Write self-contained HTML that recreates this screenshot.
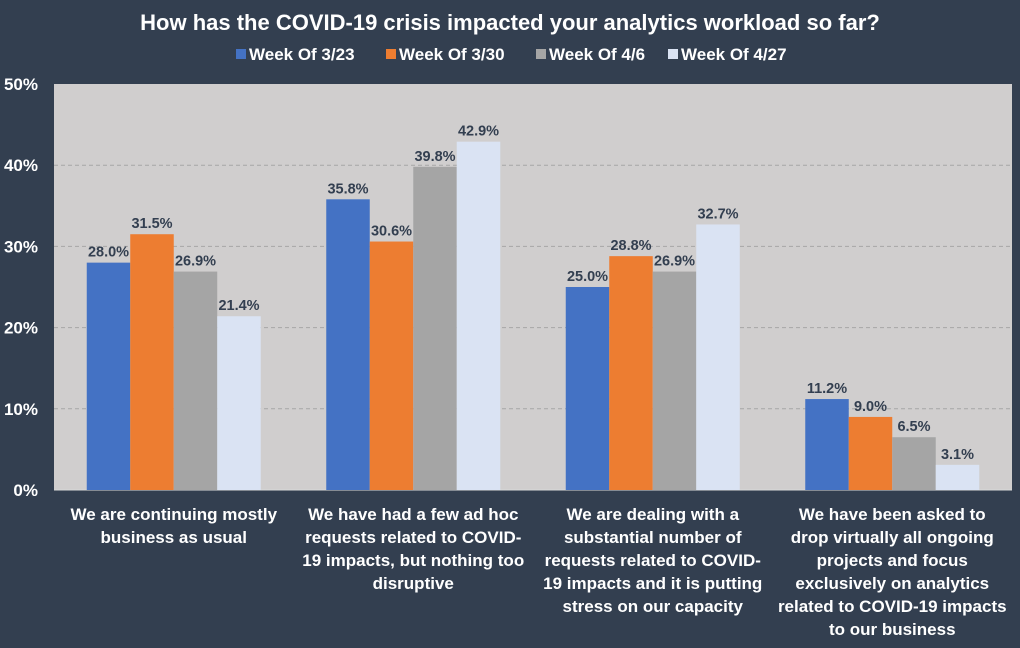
<!DOCTYPE html>
<html><head><meta charset="utf-8">
<style>
html,body{margin:0;padding:0;background:#333f50;}
body{width:1020px;height:643px;overflow:hidden;font-family:"Liberation Sans",sans-serif;}
</style></head>
<body>
<svg id="chart" width="1020" height="643" xmlns="http://www.w3.org/2000/svg">
<rect x="0" y="0" width="1020" height="643" fill="#333f50"/>
<text x="510" y="30" text-anchor="middle" fill="#fff" font-size="22" font-weight="bold" font-family="Liberation Sans, sans-serif">How has the COVID-19 crisis impacted your analytics workload so far?</text>
<g id="legend"></g>
<rect x="54" y="84" width="958" height="406" fill="#d0cece"/>
<g id="grid"></g><g id="bars"></g><g id="labels"></g><g id="xlabels"></g>
</svg>
<script>
const categories=[
 ["We are continuing mostly","business as usual"],
 ["We have had a few ad hoc","requests related to COVID-","19 impacts, but nothing too","disruptive"],
 ["We are dealing with a","substantial number of","requests related to COVID-","19 impacts and it is putting","stress on our capacity"],
 ["We have been asked to","drop virtually all ongoing","projects and focus","exclusively on analytics","related to COVID-19 impacts","to our business"]
];
const seriesNames=["Week Of 3/23","Week Of 3/30","Week Of 4/6","Week Of 4/27"];
const s1=[28.0,35.8,25.0,11.2];
const s2=[31.5,30.6,28.8,9.0];
const s3=[26.9,39.8,26.9,6.5];
const s4=[21.4,42.9,32.7,3.1];
const yTicks=[0,10,20,30,40,50];
const series=[s1,s2,s3,s4];
const colors=["#4472c4","#ed7d31","#a5a5a5","#dae3f3"];
const NS="http://www.w3.org/2000/svg";
const X0=54,X1=1012,Y0=490,Y1=84,YMAX=50;
const y=v=>Y0-(v/YMAX)*(Y0-Y1);
const gw=(X1-X0)/categories.length, bw=43.5;
function mk(t,a,p,txt){const e=document.createElementNS(NS,t);for(const k in a)e.setAttribute(k,a[k]);if(txt!=null)e.textContent=txt;document.getElementById(p).appendChild(e);return e;}
yTicks.forEach(t=>{
 if(t>0&&t<YMAX){const l=mk('line',{x1:X0,x2:X1,y1:y(t),y2:y(t),stroke:'#a6a6a6','stroke-dasharray':'4,3','stroke-width':1},'grid');
 
 }
 const tx=mk('text',{x:38,y:y(t)+6,'text-anchor':'end',fill:'#fff','font-size':17,'font-weight':'bold'},'grid',t+'%');
 
 
});
const ax=mk('line',{x1:X0,x2:X1,y1:Y0,y2:Y0,stroke:'#d9d9d9','stroke-width':1},'grid');


categories.forEach((c,i)=>{
 const cx=X0+gw*(i+0.5);
 series.forEach((s,j)=>{
  const bx=cx-2*bw+j*bw;
  const r=mk('rect',{x:bx,y:y(s[i]),width:bw,height:Y0-y(s[i]),fill:colors[j]},'bars');
  
  
  const t=mk('text',{x:bx+bw/2,y:y(s[i])-6,'text-anchor':'middle',fill:'#333f50','font-size':14.5,'font-weight':'bold'},'labels',s[i].toFixed(1)+'%');
  
  
 });
 c.forEach((ln,k)=>{
  const t=mk('text',{x:cx,y:520+k*23,'text-anchor':'middle',fill:'#fff','font-size':17,'font-weight':'bold'},'xlabels',ln);
  
  
 });
});
const lx=[236,386,536,668];
seriesNames.forEach((n,j)=>{
 const r=mk('rect',{x:lx[j],y:49,width:10,height:10,fill:colors[j]},'legend');
 
 
 const t=mk('text',{x:lx[j]+13,y:60,fill:'#fff','font-size':17,'font-weight':'bold'},'legend',n);
 
 
});
</script>
</body></html>
